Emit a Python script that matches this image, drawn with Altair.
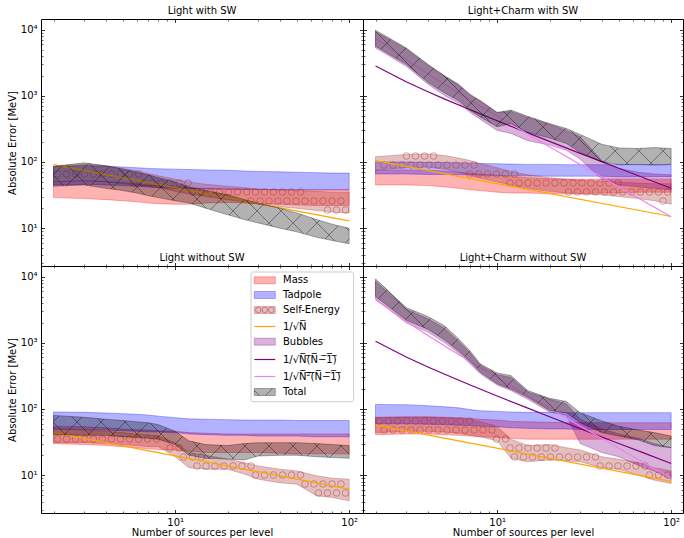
import math
import numpy as np
import pandas as pd
import altair as alt

# ---------------- data ----------------
N = [2, 3, 4, 5, 6, 7, 8, 10, 12, 15, 20, 25, 30, 40, 50, 65, 80, 100]
N_CURVE = [2, 3, 4, 5, 7, 10, 15, 20, 30, 50, 70, 100]
N_ENDS = [2, 100]

# Light with SW
lsw_mass_lo = [29, 28, 27, 26, 25, 24, 23.5, 23, 23, 24, 24.5, 24, 23.5, 23, 22.5, 22, 22, 22]
lsw_mass_hi = [50, 52, 51, 49, 47, 45, 44, 42, 41, 40, 39, 39, 38.5, 38, 38, 38, 38, 38]
lsw_tad_lo = [45, 46, 45, 44, 43, 42, 41, 40, 40, 39, 39, 38.5, 38.5, 38, 38, 38, 38, 38]
lsw_tad_hi = [85, 88, 86, 84, 82, 80, 79, 78, 77, 76, 75, 73, 72, 71, 70, 69, 68, 68]
lsw_se_lo = [50, 52, 50, 47, 45, 43, 41, 36, 33, 30, 27, 25, 23, 21, 20, 18.5, 17.5, 17]
lsw_se_hi = [85, 92, 88, 80, 73, 67, 62, 55, 50, 46, 43, 41, 39, 38, 37, 36, 35, 35]
lsw_tot_lo = [43, 45, 40, 37, 34, 31, 29, 26, 24, 20, 16, 13.5, 12, 10, 8.8, 7.3, 6.5, 5.8]
lsw_tot_hi = [86, 97, 88, 78, 70, 64, 58, 50, 42, 37, 32, 27, 24, 20, 17, 13.5, 11.5, 10]
lsw_inv_sqrt = [91, 12.9]

# Light+Charm with SW
csw_mass_lo = [45, 45, 44, 42, 40, 38, 37, 35, 34, 34, 33, 33, 33, 34, 34, 35, 35, 35]
csw_mass_hi = [75, 76, 75, 73, 70, 68, 66, 63, 60, 58, 56, 55, 55, 55, 55, 55, 55, 55]
csw_tad_lo = [66, 66, 65, 65, 64, 64, 63, 63, 62, 62, 61, 61, 61, 61, 60, 60, 60, 60]
csw_tad_hi = [100, 100, 99, 98, 97, 96, 95, 94, 93, 92, 92, 91, 91, 91, 91, 91, 91, 91]
csw_se_lo = [75, 82, 84, 78, 70, 62, 57, 50, 45, 40, 36, 34, 33, 32, 30, 28, 26, 23]
csw_se_hi = [120, 130, 132, 125, 115, 105, 95, 82, 72, 64, 58, 55, 53, 51, 50, 48, 47, 47]
csw_bub_lo = [5300, 2800, 1500, 1000, 780, 560, 440, 300, 270, 210, 180, 150, 110, 55, 45, 42, 40, 38]
csw_bub_hi = [9300, 5100, 2900, 1950, 1450, 1020, 830, 560, 580, 470, 370, 300, 240, 105, 80, 70, 66, 64]
csw_tot_lo = [5600, 3000, 1600, 1100, 850, 600, 480, 340, 380, 280, 230, 190, 140, 100, 91, 92, 90, 92]
csw_tot_hi = [9800, 5300, 3000, 2000, 1500, 1050, 850, 560, 610, 490, 380, 320, 260, 185, 163, 160, 165, 160]
csw_inv_sqrt = [105, 15]
csw_inv_nn1 = [2820, 1628, 1151, 892, 615, 420, 275, 205, 135, 80.6, 57.4, 40.1]
csw_inv_n2n1 = [7400, 3490, 2136, 1480, 863, 493, 264, 170, 91.6, 42.3, 25.3, 14.9]

# Light without SW
lno_mass_lo = [30, 29, 28, 27, 26, 25, 24.5, 24, 23, 22, 22, 22, 22, 21.5, 21, 21, 21, 21]
lno_mass_hi = [55, 54, 52, 50, 49, 48, 47, 46, 44, 43, 42, 42, 42, 42, 42, 42, 42, 42]
lno_tad_lo = [50, 49, 48, 47, 46, 45, 45, 44, 42, 41, 40, 40, 39, 39, 39, 38, 38, 38]
lno_tad_hi = [90, 89, 87, 85, 83, 81, 78, 74, 71, 70, 69, 68, 68, 68, 67, 67, 67, 67]
lno_se_lo = [31, 31, 30, 29, 28, 27, 27, 19, 13, 12.3, 12.3, 10.4, 8.7, 7.7, 7.3, 4.9, 4.6, 4.1]
lno_se_hi = [50, 48, 46, 44, 42, 41, 39, 31, 22, 20, 17.4, 15.5, 13.8, 12.3, 11.6, 9.8, 9.0, 8.7]
lno_tot_lo = [41, 40, 40, 38, 37, 36, 35, 29, 20, 18, 17.5, 17, 19.5, 20, 20, 19, 18.5, 18]
lno_tot_hi = [80, 75, 70, 67, 64, 62, 58, 46, 33, 29, 28, 30, 31, 31, 31, 30, 29, 28]
lno_inv_sqrt = [43.9, 6.15]

# Light+Charm without SW
cno_mass_lo = [41, 42, 42, 41, 40, 39, 38, 37, 36, 35, 35, 35, 35, 35, 35, 35, 35, 35]
cno_mass_hi = [75, 76, 76, 75, 74, 72, 70, 68, 65, 64, 63, 62, 62, 62, 62, 62, 62, 62]
cno_tad_lo = [60, 60, 59, 58, 57, 56, 55, 54, 52, 51, 50, 50, 49, 49, 49, 49, 49, 49]
cno_tad_hi = [117, 116, 112, 108, 104, 98, 94, 92, 90, 89, 89, 88, 88, 88, 88, 88, 88, 88]
cno_se_lo = [44, 46, 46, 45, 43, 40, 38, 33, 18, 16, 17, 16.5, 16, 13, 12.3, 10, 8.4, 7.5]
cno_se_hi = [74, 76, 76, 74, 72, 70, 64, 55, 35, 28, 29, 26, 24, 19, 17.4, 15.5, 13, 11.6]
cno_bub_lo = [4600, 2000, 1450, 1000, 700, 480, 340, 230, 190, 140, 90, 80, 30, 22, 19, 14, 11.5, 8.7]
cno_bub_hi = [8500, 3200, 2300, 1650, 1050, 700, 460, 330, 300, 180, 140, 120, 70, 50, 42, 36, 30, 26]
cno_tot_lo = [5000, 2200, 1600, 1100, 750, 520, 360, 240, 200, 150, 95, 88, 62, 44, 39, 34, 28, 26]
cno_tot_hi = [9200, 3400, 2500, 1800, 1150, 750, 480, 350, 320, 190, 145, 130, 88, 66, 55, 48, 44, 39]
cno_inv_sqrt = [57, 8.06]
cno_inv_nn1 = [1055, 609, 431, 334, 230, 157, 103, 76.5, 50.6, 30.1, 21.5, 15.0]
cno_inv_n2n1 = [4470, 2107, 1290, 894, 521, 298, 159, 102.6, 55.3, 25.5, 15.3, 8.98]

TITLES = ["Light with SW", "Light+Charm with SW", "Light without SW", "Light+Charm without SW"]
LEG_LABELS = ["Mass", "Tadpole", "Self-Energy", "1/\u221aN\u0305", "Bubbles",
              "1/\u221aN\u0305(\u0305N\u0305\u2212\u03051\u0305)\u0305",
              "1/\u221aN\u0305\u00b2\u0305(\u0305N\u0305\u2212\u03051\u0305)\u0305", "Total"]

# ---------------- style / layout ----------------
FONT = "DejaVu Sans"
C_MASS, C_TAD, C_SE, C_BUB, C_TOT = "red", "blue", "brown", "purple", "black"
C_ORANGE, C_PURPLE, C_VIOLET = "orange", "purple", "violet"
PANEL_W = [322, 320]
PANEL_H = 247
X_LOG0, X_PPD = 0.229, 174.0
Y_LOG1, Y_PPD = 4.16, 66.2
HATCH_X = 24.0
HATCH_O = 9.0

X_MAJOR = [10, 100]
X_MINOR = [2, 3, 4, 5, 6, 7, 8, 9, 20, 30, 40, 50, 60, 70, 80, 90]
Y_MAJOR = [10, 100, 1000, 10000]
Y_MINOR = [3, 4, 5, 6, 7, 8, 9] + [m * 10 ** k for k in (1, 2, 3) for m in range(2, 10)]
SUP = "['\u2070','\u00b9','\u00b2','\u00b3','\u2074']"
LABEL_EXPR = "'10' + " + SUP + "[round(log(datum.value)/LN10)]"


def xpix(n):
    return (math.log10(n) - X_LOG0) * X_PPD


def ypix(v):
    return (Y_LOG1 - math.log10(v)) * Y_PPD


def xval(px):
    return 10 ** (X_LOG0 + px / X_PPD)


def yval(py):
    return 10 ** (Y_LOG1 - py / Y_PPD)


AX = dict(grid=False, domain=False, tickColor="black", labelFont=FONT, labelFontSize=10,
          labelColor="black", titleFont=FONT, titleFontSize=10, titleFontWeight="normal",
          titleColor="black", labelFlush=False, labelOverlap=False, zindex=1)

dummy = pd.DataFrame({"N": [10.0], "v": [100.0]})


def stripe_stops(centres, S):
    clear, dark = "rgba(0,0,0,0)", "rgba(0,0,0,0.38)"
    st = [{"offset": 0, "color": clear}]
    for c in sorted(centres):
        a, b = (c - 0.8) / S, (c + 0.8) / S
        if b <= 0 or a >= 1:
            continue
        a, b = max(a, 0.0), min(b, 1.0)
        st += [{"offset": a, "color": clear}, {"offset": a, "color": dark},
               {"offset": b, "color": dark}, {"offset": b, "color": clear}]
    st.append({"offset": 1, "color": clear})
    return st


def x_gradients(x0, y0, W, H):
    S = W + H
    s = S * W / (W * W + H * H)
    baseA = x0 + y0
    baseB = x0 - y0
    ks = range(int(math.floor((min(baseA, baseB) - S) / HATCH_X)) - 2,
               int(math.ceil((max(baseA, baseB) + 2 * S) / HATCH_X)) + 2)
    cA = [HATCH_X * k - baseA for k in ks if 0 <= HATCH_X * k - baseA <= S]
    cB = [HATCH_X * k - baseB + H for k in ks if 0 <= HATCH_X * k - baseB + H <= S]
    gA = {"gradient": "linear", "x1": 0, "y1": 0, "x2": s, "y2": s * H / W,
          "stops": stripe_stops(cA, S)}
    gB = {"gradient": "linear", "x1": 0, "y1": 1, "x2": s, "y2": 1 - s * H / W,
          "stops": stripe_stops(cB, S)}
    return gA, gB


def panel(idx, bands, lines):
    col, row = idx % 2, idx // 2
    w = PANEL_W[col]
    xs = alt.Scale(type="log", domain=[xval(0), xval(w)], nice=False)
    ys = alt.Scale(type="log", domain=[yval(PANEL_H), yval(0)], nice=False)

    def X(f):
        return alt.X(f, type="quantitative", scale=xs, axis=None)

    def Y(f):
        return alt.Y(f, type="quantitative", scale=ys, axis=None)

    def band(lo, hi, color):
        df = pd.DataFrame({"N": N, "lo": lo, "hi": hi})
        return alt.Chart(df).mark_area(fill=color, fillOpacity=0.3, stroke=color,
                                       strokeOpacity=0.3, strokeWidth=1).encode(
            x=X("N"), y=Y("lo"), y2="hi")

    def line(ns, vs, color):
        df = pd.DataFrame({"N": ns, "v": vs})
        return alt.Chart(df).mark_line(color=color, strokeWidth=1.2).encode(x=X("N"), y=Y("v"))

    def circles(lo, hi):
        lx, llo, lhi = np.log10(N), np.log10(lo), np.log10(hi)
        x0, x1 = xpix(N[0]), xpix(N[-1])
        pts = []
        for j in range(int(PANEL_H / HATCH_O) + 2):
            py = j * HATCH_O + 2
            off = HATCH_O / 2 if j % 2 else 0
            for i in range(int(w / HATCH_O) + 2):
                px = i * HATCH_O + off + 3
                if px < x0 + 2 or px > x1 - 2:
                    continue
                ln = X_LOG0 + px / X_PPD
                top = (Y_LOG1 - np.interp(ln, lx, lhi)) * Y_PPD
                bot = (Y_LOG1 - np.interp(ln, lx, llo)) * Y_PPD
                if top + 1.0 <= py <= bot - 1.0:
                    pts.append((xval(px), yval(py)))
        df = pd.DataFrame(pts, columns=["N", "v"])
        return alt.Chart(df).mark_point(shape="circle", size=44, filled=False, color=C_SE,
                                        strokeOpacity=0.42, opacity=1, strokeWidth=1).encode(
            x=X("N"), y=Y("v"))

    def hatch(lo, hi):
        x0, x1 = xpix(N[0]), xpix(N[-1])
        y0, y1 = ypix(max(hi)), ypix(min(lo))
        gA, gB = x_gradients(x0, y0, x1 - x0, y1 - y0)
        df = pd.DataFrame({"N": N, "lo": lo, "hi": hi})
        return [alt.Chart(df).mark_area(fill=g, strokeWidth=0).encode(x=X("N"), y=Y("lo"), y2="hi")
                for g in (gA, gB)]

    layers = [band(*bands["mass"], C_MASS), band(*bands["tad"], C_TAD),
              band(*bands["se"], C_SE), circles(*bands["se"]),
              line(N_ENDS, lines["sqrt"], C_ORANGE)]
    if "bub" in bands:
        layers.append(band(*bands["bub"], C_BUB))
        layers.append(line(N_CURVE, lines["nn1"], C_PURPLE))
        layers.append(line(N_CURVE, lines["n2n1"], C_VIOLET))
    layers.append(band(*bands["tot"], C_TOT))
    layers += hatch(*bands["tot"])

    def axis_layer(ax_x, ax_y):
        return alt.Chart(dummy).mark_point(opacity=0).encode(
            x=alt.X("N:Q", scale=xs, axis=ax_x), y=alt.Y("v:Q", scale=ys, axis=ax_y))

    xlab = row == 1
    ylab = col == 0
    layers.append(axis_layer(
        alt.Axis(orient="bottom", values=X_MAJOR, tickSize=3.5, tickWidth=0.8, offset=-3.5,
                 labels=xlab, labelExpr=LABEL_EXPR, labelPadding=4,
                 title="Number of sources per level" if xlab else None, titlePadding=0, **AX),
        alt.Axis(orient="left", values=Y_MAJOR, tickSize=3.5, tickWidth=0.8, offset=-3.5,
                 labels=ylab, labelExpr=LABEL_EXPR, labelPadding=4,
                 title="Absolute Error [MeV]" if ylab else None, titlePadding=3, **AX)))
    layers.append(axis_layer(
        alt.Axis(orient="top", values=X_MAJOR, tickSize=3.5, tickWidth=0.8, offset=-3.5,
                 labels=False, title=None, **AX),
        alt.Axis(orient="right", values=Y_MAJOR, tickSize=3.5, tickWidth=0.8, offset=-3.5,
                 labels=False, title=None, **AX)))
    layers.append(axis_layer(
        alt.Axis(orient="bottom", values=X_MINOR, tickSize=2, tickWidth=0.6, offset=-2,
                 labels=False, title=None, **AX),
        alt.Axis(orient="left", values=Y_MINOR, tickSize=2, tickWidth=0.6, offset=-2,
                 labels=False, title=None, **AX)))
    layers.append(axis_layer(
        alt.Axis(orient="top", values=X_MINOR, tickSize=2, tickWidth=0.6, offset=-2,
                 labels=False, title=None, **AX),
        alt.Axis(orient="right", values=Y_MINOR, tickSize=2, tickWidth=0.6, offset=-2,
                 labels=False, title=None, **AX)))

    layers.append(alt.Chart(dummy).mark_text(text=TITLES[idx], font=FONT, fontSize=10,
                                             color="black", baseline="middle").encode(
        x=alt.value(w / 2), y=alt.value(-8)))

    if idx == 2:
        layers += legend_layers()

    return alt.layer(*layers).resolve_axis(x="independent", y="independent").properties(
        width=w, height=PANEL_H)


def legend_layers():
    ys_ = [14.3, 29, 44, 60.5, 75.7, 93.5, 110.5, 126]
    colors = [C_MASS, C_TAD, C_SE, C_ORANGE, C_BUB, C_PURPLE, C_VIOLET, C_TOT]
    kinds = ["patch", "patch", "patch", "line", "patch", "line", "line", "patch"]
    leg = pd.DataFrame({"label": LEG_LABELS, "yc": ys_, "color": colors, "kind": kinds})
    leg["y0"] = leg["yc"] - 3.5
    leg["y1"] = leg["yc"] + 3.5
    patches = leg[leg.kind == "patch"]
    lns = leg[leg.kind == "line"]
    hx0, hx1 = 213.3, 234.3
    out = [alt.Chart(dummy).mark_rect(fill="white", fillOpacity=0.8, stroke="#cccccc",
                                      strokeWidth=1, cornerRadius=2).encode(
        x=alt.value(210), x2=alt.value(312.6), y=alt.value(6), y2=alt.value(135.7))]
    out.append(alt.Chart(patches).mark_rect(fillOpacity=0.3, strokeOpacity=0.3, strokeWidth=1).encode(
        x=alt.value(hx0), x2=alt.value(hx1),
        y=alt.Y("y0:Q", scale=None), y2="y1:Q",
        fill=alt.Fill("color:N", scale=None), stroke=alt.Stroke("color:N", scale=None)))
    tot = leg[leg.label == "Total"]
    gA, gB = x_gradients(1000, 1000 - 2, hx1 - hx0, 7)
    for g in (gA, gB):
        out.append(alt.Chart(tot).mark_rect(fill=g, strokeWidth=0).encode(
            x=alt.value(hx0), x2=alt.value(hx1), y=alt.Y("y0:Q", scale=None), y2="y1:Q"))
    se = leg[leg.label == "Self-Energy"]
    for cx in (hx0 + 4, hx0 + 10.5, hx0 + 17):
        out.append(alt.Chart(se).mark_point(shape="circle", size=30, filled=False, color=C_SE,
                                            strokeOpacity=0.45, opacity=1, strokeWidth=1).encode(
            x=alt.value(cx), y=alt.Y("yc:Q", scale=None)))
    out.append(alt.Chart(lns).mark_rule(strokeWidth=1.2).encode(
        x=alt.value(hx0), x2=alt.value(hx1), y=alt.Y("yc:Q", scale=None),
        color=alt.Color("color:N", scale=None)))
    out.append(alt.Chart(leg).mark_text(align="left", baseline="middle", font=FONT, fontSize=10,
                                        color="black").encode(
        x=alt.value(242), y=alt.Y("yc:Q", scale=None), text="label:N"))
    return out


panels = [
    panel(0, {"mass": (lsw_mass_lo, lsw_mass_hi), "tad": (lsw_tad_lo, lsw_tad_hi),
              "se": (lsw_se_lo, lsw_se_hi), "tot": (lsw_tot_lo, lsw_tot_hi)},
          {"sqrt": lsw_inv_sqrt}),
    panel(1, {"mass": (csw_mass_lo, csw_mass_hi), "tad": (csw_tad_lo, csw_tad_hi),
              "se": (csw_se_lo, csw_se_hi), "bub": (csw_bub_lo, csw_bub_hi),
              "tot": (csw_tot_lo, csw_tot_hi)},
          {"sqrt": csw_inv_sqrt, "nn1": csw_inv_nn1, "n2n1": csw_inv_n2n1}),
    panel(2, {"mass": (lno_mass_lo, lno_mass_hi), "tad": (lno_tad_lo, lno_tad_hi),
              "se": (lno_se_lo, lno_se_hi), "tot": (lno_tot_lo, lno_tot_hi)},
          {"sqrt": lno_inv_sqrt}),
    panel(3, {"mass": (cno_mass_lo, cno_mass_hi), "tad": (cno_tad_lo, cno_tad_hi),
              "se": (cno_se_lo, cno_se_hi), "bub": (cno_bub_lo, cno_bub_hi),
              "tot": (cno_tot_lo, cno_tot_hi)},
          {"sqrt": cno_inv_sqrt, "nn1": cno_inv_nn1, "n2n1": cno_inv_n2n1}),
]

chart = alt.concat(*panels, columns=2, spacing=0, bounds="flush").properties(
    padding={"left": 6, "top": 5, "right": 0, "bottom": 0}, background="white"
).configure_view(stroke="black", strokeWidth=1)

chart.save("out.html", embed_options={"renderer": "svg", "actions": False})
